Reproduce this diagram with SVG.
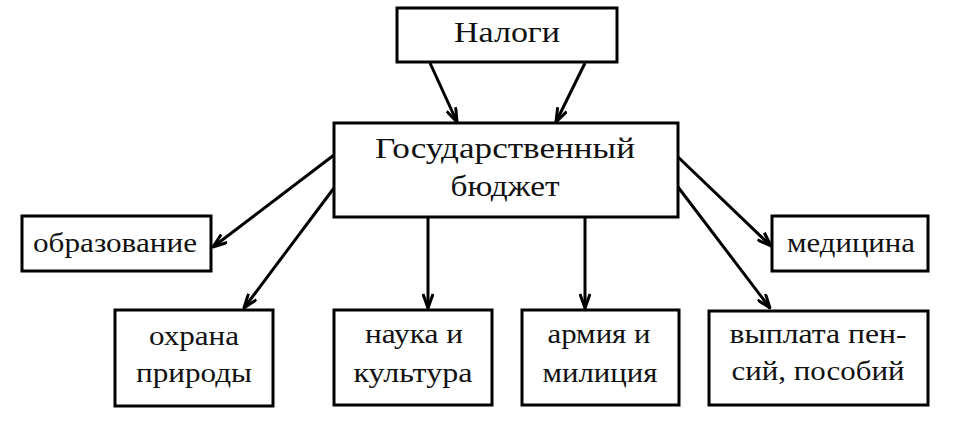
<svg xmlns="http://www.w3.org/2000/svg" width="966" height="438" viewBox="0 0 966 438">
<style>
.box{fill:#fff;stroke:#000;stroke-width:3}
.t{font-family:"Liberation Serif","Times New Roman",serif;font-size:27px;fill:#111;text-anchor:middle}
.big{font-size:30px}
.c{stroke:#000;stroke-width:3;fill:none}
</style>
<defs>
<marker id="ah" viewBox="0 0 16 12" refX="15" refY="6" markerWidth="16" markerHeight="12" markerUnits="userSpaceOnUse" orient="auto">
<path d="M1,1 L15,6 L1,11" fill="none" stroke="#000" stroke-width="3"/>
</marker>
</defs>
<rect width="966" height="438" fill="#fff"/>
<g id="connectors">
<line class="c" x1="430" y1="63" x2="457" y2="122" marker-end="url(#ah)"/>
<line class="c" x1="585" y1="63" x2="556" y2="122" marker-end="url(#ah)"/>
<line class="c" x1="334" y1="155" x2="213" y2="247" marker-end="url(#ah)"/>
<line class="c" x1="334" y1="188" x2="244" y2="308" marker-end="url(#ah)"/>
<line class="c" x1="428" y1="217" x2="428" y2="308" marker-end="url(#ah)"/>
<line class="c" x1="585" y1="217" x2="585" y2="308" marker-end="url(#ah)"/>
<line class="c" x1="678" y1="157" x2="771" y2="246" marker-end="url(#ah)"/>
<line class="c" x1="678" y1="187" x2="770" y2="308" marker-end="url(#ah)"/>
</g>
<g id="nalogi">
<rect class="box" x="397" y="8" width="220" height="54"/>
<text class="t big" x="507" y="42" textLength="106" lengthAdjust="spacingAndGlyphs">Налоги</text>
</g>
<g id="budget">
<rect class="box" x="334" y="123" width="344" height="94"/>
<text class="t big" x="505" y="158" textLength="260" lengthAdjust="spacingAndGlyphs">Государственный</text>
<text class="t big" x="505" y="196" textLength="109" lengthAdjust="spacingAndGlyphs">бюджет</text>
</g>
<g id="obrazovanie">
<rect class="box" x="22" y="216" width="189" height="55"/>
<text class="t" x="115" y="252" textLength="164" lengthAdjust="spacingAndGlyphs">образование</text>
</g>
<g id="ohrana">
<rect class="box" x="115" y="310" width="158" height="96"/>
<text class="t" x="194" y="345" textLength="90" lengthAdjust="spacingAndGlyphs">охрана</text>
<text class="t" x="194" y="382" textLength="116" lengthAdjust="spacingAndGlyphs">природы</text>
</g>
<g id="nauka">
<rect class="box" x="334" y="310" width="158" height="95"/>
<text class="t" x="414" y="343" textLength="98" lengthAdjust="spacingAndGlyphs">наука и</text>
<text class="t" x="413" y="382" textLength="119" lengthAdjust="spacingAndGlyphs">культура</text>
</g>
<g id="armiya">
<rect class="box" x="522" y="310" width="157" height="95"/>
<text class="t" x="599" y="343" textLength="103" lengthAdjust="spacingAndGlyphs">армия и</text>
<text class="t" x="600" y="382" textLength="115" lengthAdjust="spacingAndGlyphs">милиция</text>
</g>
<g id="medicina">
<rect class="box" x="772" y="216" width="156" height="55"/>
<text class="t" x="851" y="252" textLength="128" lengthAdjust="spacingAndGlyphs">медицина</text>
</g>
<g id="vyplata">
<rect class="box" x="709" y="311" width="219" height="94"/>
<text class="t" x="818" y="343" textLength="177" lengthAdjust="spacingAndGlyphs">выплата пен-</text>
<text class="t" x="818" y="380" textLength="173" lengthAdjust="spacingAndGlyphs">сий, пособий</text>
</g>
</svg>
